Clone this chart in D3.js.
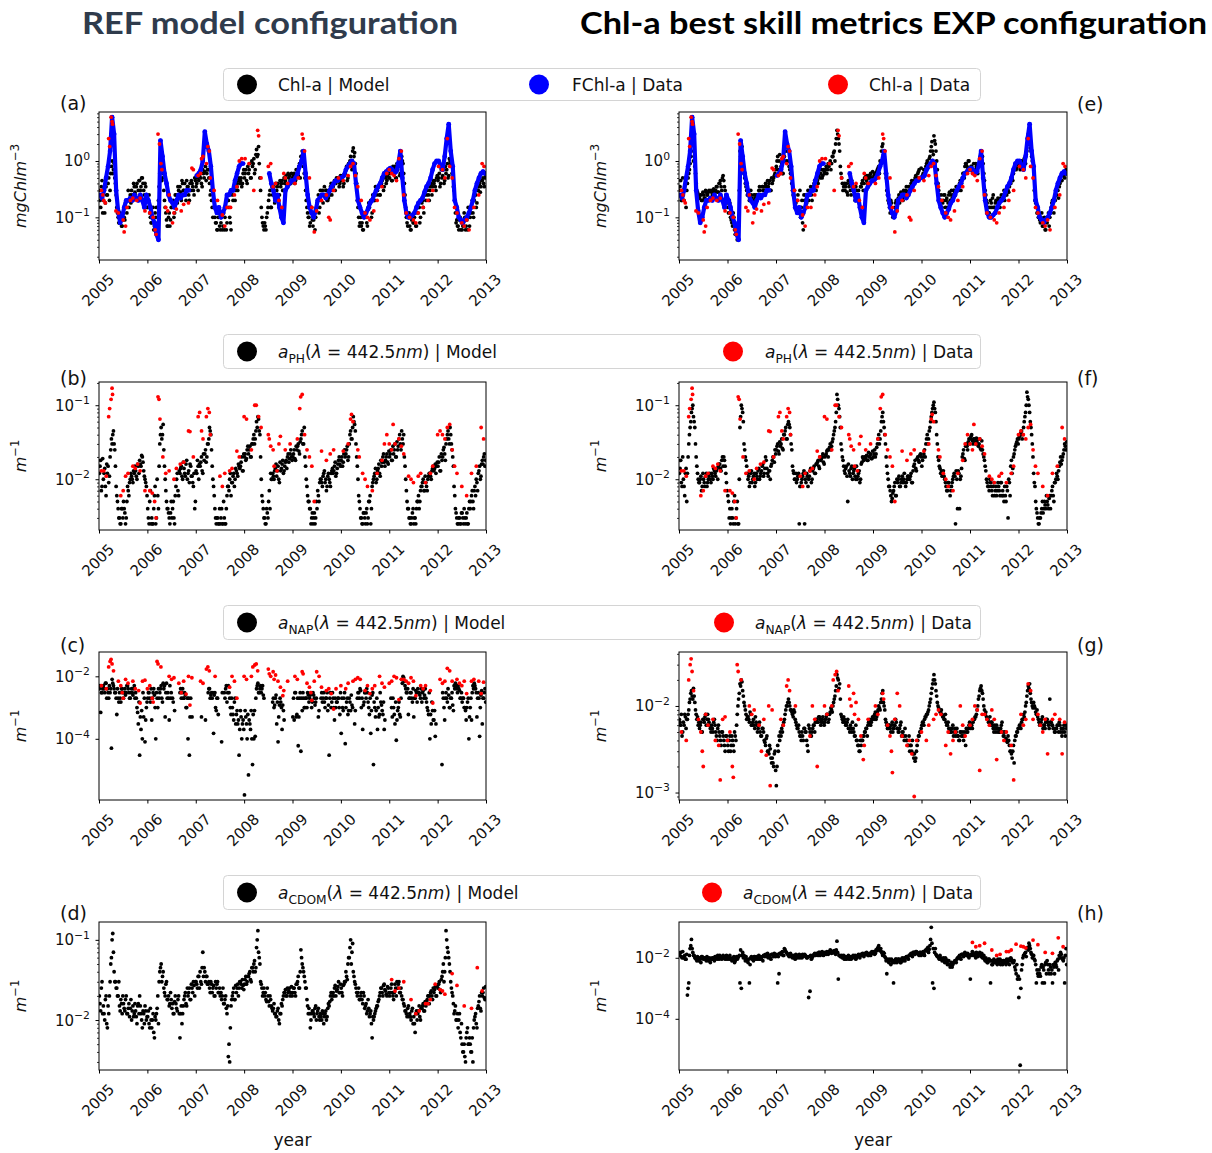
<!DOCTYPE html>
<html><head><meta charset="utf-8">
<script src="https://cdn.jsdelivr.net/npm/d3@7"></script>
<style>body{margin:0;background:#fff}</style>
</head><body>
<svg id="fig" width="1212" height="1153"></svg>
<script>
// ---------------- DATA ----------------
const YEARS = [2005, 2006, 2007, 2008, 2009, 2010, 2011, 2012, 2013];

// model series: 3 samples per month (36 per year), 2005-01 .. 2012-12; "B" arrays = the samples in between
const refChl = [
.3,.15,.45, .2,.12,.35, .25,.5,.3, .8,.6,.9, .4,.15,.1, .08,.1,.07, .12,.09,.15, .2,.15,.25, .3,.2,.35, .25,.4,.3, .45,.35,.5, .3,.4,.2,
.15,.25,.1, .08,.15,.07, .1,.06,.2, .6,.8,.5, .3,.15,.09, .07,.12,.09, .15,.2,.12, .25,.18,.3, .35,.2,.4, .3,.25,.45, .35,.2,.3, .4,.3,.5,
.35,.5,.45, .6,.4,.7, .5,.8,.6, .7,.4,.3, .15,.2,.1, .08,.06,.12, .06,.1,.07, .06,.15,.08, .2,.1,.06, .25,.3,.2, .4,.3,.5, .45,.35,.6,
.5,.7,.4, .6,.9,.5, .8,1.1,.7, 1.6,1.3,.9, .3,.1,.07, .08,.06,.12, .2,.3,.15, .25,.35,.2, .3,.4,.25, .35,.45,.3, .4,.55,.35, .5,.45,.6,
.5,.6,.45, .7,.55,.9, 1.2,1.5,.8, .5,.2,.12, .1,.08,.15, .07,.12,.1, .18,.25,.15, .2,.3,.25, .25,.3,.2, .3,.35,.25, .35,.45,.4, .45,.5,.4,
.45,.55,.4, .6,.8,.5, .9,1.2,.7, 1.7,1.4,.6, .2,.1,.08, .07,.06,.1, .12,.08,.15, .15,.2,.12, .25,.2,.3, .3,.35,.25, .4,.5,.35, .5,.45,.6,
.5,.7,.45, .6,.8,.5, .7,1.0,.6, 1.2,.9,.4, .15,.08,.1, .07,.06,.1, .08,.12,.07, .12,.15,.1, .18,.15,.25, .2,.3,.25, .3,.4,.35, .4,.35,.5,
.45,.6,.4, .5,.7,.45, .6,.9,.55, 1.0,.8,.5, .3,.12,.09, .07,.09,.06, .06,.08,.1, .07,.06,.12, .1,.15,.12, .2,.25,.18, .3,.4,.35, .45,.4,.5];
const refChlB = [
.2,.35,.12, .3,.18,.25, .4,.2,.6, 1.0,.7,.5, .25,.12,.08, .12,.07,.09, .1,.18,.12, .3,.2,.18, .25,.4,.28, .35,.22,.45, .3,.5,.4, .25,.35,.15,
.2,.12,.08, .1,.06,.12, .15,.08,.35, .7,.45,.6, .2,.12,.07, .1,.07,.15, .18,.1,.25, .2,.35,.22, .28,.45,.3, .4,.2,.35, .25,.4,.45, .35,.25,.45,
.4,.3,.55, .5,.35,.6, .65,.45,.7, .5,.25,.2, .1,.15,.08, .06,.1,.07, .08,.06,.12, .1,.06,.2, .15,.08,.3, .2,.35,.3, .35,.45,.4, .5,.4,.7,
.6,.45,.8, .7,.5,1.0, .9,.6,1.3, 1.2,1.8,.5, .15,.08,.06, .07,.1,.15, .25,.15,.35, .3,.18,.4, .35,.2,.45, .4,.3,.5, .45,.35,.6, .55,.4,.5,
.55,.4,.7, .6,.8,.5, 1.0,1.3,.6, .3,.15,.1, .07,.12,.09, .09,.06,.15, .2,.12,.3, .25,.18,.35, .3,.2,.22, .25,.4,.3, .4,.3,.5, .5,.35,.55,
.5,.35,.6, .7,.45,.9, 1.0,.8,1.5, 1.2,.9,.4, .15,.07,.1, .08,.06,.12, .1,.07,.18, .18,.1,.25, .2,.35,.25, .35,.25,.4, .45,.3,.55, .4,.55,.5,
.6,.45,.8, .7,.5,.9, .8,.55,1.1, 1.0,.6,.25, .1,.07,.12, .06,.09,.08, .1,.07,.15, .15,.08,.2, .2,.12,.3, .25,.35,.2, .35,.25,.45, .45,.3,.55,
.5,.35,.7, .55,.4,.8, .7,.5,1.1, .9,.6,.35, .2,.08,.07, .06,.1,.08, .07,.12,.06, .09,.15,.07, .12,.2,.1, .25,.15,.3, .35,.28,.45, .5,.35,.55];

const expChl = [
.3,.45,.2, .25,.35,.15, .4,.6,.9, 1.5,2.5,1.2, .6,.3,.25, .22,.25,.2, .25,.22,.28, .25,.3,.22, .28,.3,.25, .3,.35,.28, .4,.35,.5, .45,.3,.2,
.15,.2,.1, .08,.12,.06, .05,.04,.07, 1.5,2.0,1.0, .6,.4,.3, .25,.2,.3, .22,.18,.25, .2,.25,.3, .3,.25,.35, .3,.4,.35, .35,.45,.3, .4,.5,.6,
.8,1.2,1.0, .7,.9,.6, 1.2,2.0,1.5, 1.0,.7,.5, .3,.25,.2, .15,.25,.12, .1,.2,.06, .2,.15,.25, .2,.3,.25, .3,.4,.35, .5,.4,.6, .6,.5,.7,
.6,.8,.7, .8,1.0,.9, 1.2,1.5,2.0, 3.5,2.5,1.5, .6,.4,.35, .3,.4,.25, .35,.3,.45, .3,.25,.35, .2,.3,.15, .35,.45,.4, .5,.45,.55, .5,.6,.45,
.5,.6,.55, .7,.8,1.0, 1.5,2.0,1.2, .6,.3,.2, .15,.2,.12, .1,.15,.2, .2,.25,.22, .25,.2,.28, .3,.25,.35, .3,.4,.35, .4,.5,.45, .6,.7,.5,
.5,.6,.7, .8,1.0,.9, 1.2,1.8,1.5, 2.8,2.0,1.0, .4,.25,.2, .15,.2,.25, .2,.15,.25, .2,.3,.25, .3,.25,.35, .3,.4,.3, .5,.6,.8, .9,.7,1.0,
.7,.8,.6, .6,.9,.7, .8,1.0,1.4, 1.2,.6,.3, .2,.15,.12, .2,.15,.25, .15,.2,.18, .2,.15,.25, .2,.3,.25, .25,.3,.35, .4,.5,.6, .8,.7,1.0,
.9,.7,1.0, .8,1.1,.9, 1.5,3.0,2.0, 1.5,1.0,.5, .2,.15,.12, .1,.08,.12, .07,.1,.06, .08,.12,.1, .15,.2,.12, .2,.25,.3, .35,.5,.45, .6,.5,.7];
const expChlB = [
.35,.2,.5, .2,.4,.3, .5,.7,1.2, 2.0,1.0,.8, .4,.28,.22, .25,.2,.28, .22,.3,.25, .28,.2,.3, .25,.32,.28, .35,.28,.4, .45,.3,.55, .35,.25,.18,
.12,.18,.09, .07,.1,.05, .06,.05,.3, 1.2,1.8,.8, .5,.35,.25, .3,.22,.25, .2,.25,.22, .25,.22,.35, .25,.35,.3, .35,.3,.45, .4,.3,.5, .45,.55,.7,
1.0,.7,1.3, .8,.6,1.0, 1.5,1.0,1.8, .8,.6,.4, .25,.3,.18, .2,.12,.3, .15,.08,.25, .25,.18,.3, .25,.35,.2, .35,.45,.3, .45,.55,.5, .7,.55,.65,
.7,.6,.9, .9,.7,1.2, 1.4,1.0,2.5, 3.0,2.0,.8, .5,.3,.4, .35,.28,.45, .4,.25,.35, .35,.2,.3, .25,.18,.35, .4,.3,.5, .55,.4,.5, .55,.5,.65,
.55,.5,.65, .75,.6,.9, 1.8,1.3,1.0, .5,.25,.18, .12,.18,.1, .12,.18,.15, .22,.18,.28, .22,.3,.25, .35,.28,.3, .35,.45,.4, .45,.55,.5, .65,.5,.75,
.55,.7,.6, .9,.75,1.1, 1.5,2.2,1.3, 2.3,1.5,.7, .3,.2,.25, .18,.25,.15, .22,.18,.28, .25,.22,.3, .28,.35,.3, .35,.45,.4, .6,.5,.9, .8,1.0,.75,
.8,.65,.9, .7,.8,.6, .9,1.2,1.0, .9,.45,.25, .18,.12,.15, .18,.22,.15, .18,.15,.22, .18,.22,.2, .25,.2,.3, .3,.28,.4, .5,.45,.7, .9,.75,.85,
.8,1.0,.75, .9,1.0,1.3, 2.0,2.5,1.7, 1.2,.8,.3, .18,.12,.1, .09,.1,.07, .08,.06,.09, .1,.07,.12, .18,.15,.22, .25,.3,.22, .4,.45,.55, .55,.65,.6];

// FChl-a data: 2 samples per month (24 per year), null = no data
const fchlData = [
.25,.22,.3,.5,.8,1.5,6,3,.3,.13,.08,.1,.15,.2,.2,.22,.2,.25,.22,.2,.25,.2,.15,.25,
.2,.15,.1,.08,.05,.04,2.3,1.2,.6,.4,.25,.2,.18,.15,.2,.25,.22,.25,.25,.3,.3,null,null,null,
.55,.6,.7,1.0,3.3,2.0,1.5,.8,.3,.15,.12,.15,.1,.12,.15,.25,.25,.3,.3,.45,.6,.8,.9,.9,
null,null,null,null,null,null,null,null,null,null,null,null,.6,.4,.3,.2,.25,.15,.1,.08,.3,.35,.4,.45,
.45,.5,.6,.8,1.0,1.5,.6,.25,.15,.12,.1,.13,.2,.22,.25,.25,.22,.25,.3,.35,.4,.45,.45,.5,
.5,.55,.7,.8,.9,1.0,.9,.4,.2,.15,.12,.1,.12,.14,.18,.2,.25,.3,.35,.4,.5,.6,.65,.7,
.75,.7,.6,.65,.9,1.5,.5,.2,.12,.1,.1,.11,.12,.15,.18,.2,.22,.28,.35,.4,.5,.7,.9,1.0,
1.0,.8,.7,1.2,2.5,4.5,1.5,.8,.2,.15,.1,.09,.08,.09,.1,.12,.15,.2,.3,.4,.5,.6,.65,.6];

// in-situ Chl-a data [decimal year, mg Chl m^-3]
const chlObs = [
[2005.05,.3],[2005.08,.25],[2005.1,.2],[2005.13,.18],[2005.2,2.5],[2005.22,1.8],[2005.25,6],[2005.27,5],[2005.28,4.5],[2005.35,.13],[2005.4,.12],[2005.5,.09],[2005.52,.055],[2005.55,.07],[2005.58,.15],[2005.65,.2],[2005.7,.22],[2005.78,.2],[2005.85,.22],[2005.95,.13],
[2006.05,.12],[2006.12,.1],[2006.16,.06],[2006.18,.05],[2006.22,3],[2006.25,2],[2006.28,.9],[2006.3,.7],[2006.38,.15],[2006.42,.13],[2006.45,.25],[2006.52,.08],[2006.55,.12],[2006.6,.14],[2006.7,.13],[2006.75,.17],[2006.85,.18],[2006.92,.75],[2006.95,.7],
[2007.05,.55],[2007.1,.6],[2007.12,1.1],[2007.15,1.2],[2007.22,.9],[2007.25,1.8],[2007.28,1.5],[2007.3,.5],[2007.38,.3],[2007.45,.2],[2007.55,.11],[2007.6,.07],[2007.65,.15],[2007.72,.15],[2007.8,.25],[2007.85,.35],[2007.9,1.0],[2007.95,1.1],
[2008.02,1.1],[2008.1,.9],[2008.2,.3],[2008.28,3.5],[2008.3,2.8],[2008.35,.5],[2008.5,.8],[2008.55,.9],[2008.6,.35],[2008.65,.4],[2008.72,.2],[2008.78,.15],[2008.82,.6],[2008.85,.5],[2008.9,.4],
[2009.05,.4],[2009.12,.5],[2009.2,3],[2009.22,2.5],[2009.25,1.5],[2009.35,.5],[2009.4,.15],[2009.45,.055],[2009.5,.13],[2009.6,.2],[2009.7,.25],[2009.75,.1],[2009.78,.09],[2009.85,.3],[2009.95,.5],
[2010.05,.45],[2010.15,.55],[2010.2,.8],[2010.25,.9],[2010.3,.55],[2010.35,.35],[2010.42,.2],[2010.5,.12],[2010.55,.1],[2010.6,.09],[2010.68,.13],[2010.75,.2],[2010.85,.35],[2010.95,.6],
[2011.0,.7],[2011.05,.6],[2011.1,.55],[2011.15,.45],[2011.2,1.1],[2011.25,1.5],[2011.3,.25],[2011.35,.12],[2011.42,.1],[2011.5,.09],[2011.55,.08],[2011.6,.12],[2011.7,.15],[2011.8,.2],[2011.9,.3],
[2012.02,.8],[2012.1,.7],[2012.15,.5],[2012.2,2.5],[2012.25,.8],[2012.3,.5],[2012.35,.15],[2012.4,.12],[2012.5,.08],[2012.55,.07],[2012.6,.09],[2012.65,.06],[2012.75,.15],[2012.85,.25],[2012.92,.9],[2012.96,.8]];

const refAph = [
.012,.018,.008, .01,.014,.006, .012,.009,.02, .035,.04,.03, .015,.006,.004, .003,.0025,.004, .005,.0035,.003, .008,.006,.01, .011,.009,.012, .013,.01,.015, .018,.015,.02, .013,.01,.008,
.004,.0025,.007, .003,.0025,.006, .0025,.01,.004, .03,.05,.04, .025,.01,.005, .004,.003,.0035, .003,.005,.0025, .008,.012,.006, .012,.015,.01, .014,.011,.018, .012,.009,.015, .011,.008,.004,
.013,.018,.01, .015,.02,.012, .018,.025,.02, .03,.05,.04, .015,.008,.004, .0025,.003,.0025, .0025,.004,.0025, .003,.0025,.006, .008,.01,.006, .009,.012,.01, .013,.011,.015, .015,.02,.013,
.02,.018,.025, .022,.028,.02, .03,.04,.035, .06,.07,.045, .02,.006,.004, .003,.0025,.0035, .005,.004,.01, .012,.01,.014, .011,.015,.009, .013,.016,.012, .015,.018,.02, .017,.022,.02,
.02,.025,.018, .025,.03,.022, .035,.045,.03, .02,.01,.006, .005,.004,.003, .0025,.0035,.003, .004,.006,.009, .01,.008,.012, .009,.007,.011, .01,.008,.013, .012,.015,.011, .014,.018,.016,
.018,.015,.022, .02,.025,.018, .03,.045,.035, .07,.055,.03, .015,.006,.004, .003,.0025,.0035, .0025,.004,.003, .005,.0025,.008, .01,.012,.009, .013,.016,.011, .015,.02,.017, .018,.022,.016,
.02,.025,.018, .022,.03,.02, .025,.035,.03, .045,.03,.02, .01,.005,.004, .003,.0025,.0035, .0025,.003,.004, .005,.004,.007, .008,.01,.007, .009,.007,.011, .012,.01,.014, .013,.016,.015,
.015,.02,.013, .018,.025,.022, .03,.04,.035, .05,.03,.02, .008,.004,.003, .0025,.003,.0025, .0035,.0025,.003, .003,.0025,.004, .004,.006,.005, .007,.006,.009, .012,.015,.011, .018,.02,.015];
const refAphB = [
.015,.007,.019, .012,.008,.016, .015,.011,.025, .03,.045,.025, .008,.005,.003, .0025,.004,.003, .004,.0025,.005, .007,.009,.012, .01,.013,.015, .011,.016,.012, .016,.021,.017, .011,.009,.006,
.003,.005,.0025, .0025,.004,.008, .003,.006,.015, .04,.035,.055, .015,.007,.004, .0035,.0025,.005, .004,.003,.006, .01,.007,.013, .014,.011,.017, .012,.016,.01, .013,.016,.011, .009,.012,.005,
.012,.015,.016, .017,.013,.022, .022,.017,.03, .035,.045,.025, .01,.006,.003, .003,.0025,.004, .003,.0025,.005, .0025,.004,.008, .007,.012,.009, .011,.008,.014, .012,.016,.014, .017,.013,.022,
.022,.019,.028, .025,.02,.03, .035,.03,.045, .05,.065,.04, .01,.005,.003, .0025,.004,.003, .007,.012,.01, .011,.013,.016, .013,.01,.017, .014,.018,.013, .017,.014,.022, .019,.025,.018,
.022,.019,.028, .028,.024,.032, .04,.03,.05, .015,.008,.005, .004,.0025,.0035, .003,.0025,.005, .007,.005,.01, .009,.011,.013, .01,.008,.012, .009,.012,.014, .013,.017,.012, .016,.02,.015,
.02,.017,.025, .022,.028,.02, .04,.035,.05, .06,.045,.02, .01,.005,.003, .0025,.0035,.003, .0035,.0025,.005, .006,.004,.009, .011,.014,.01, .014,.012,.018, .017,.022,.015, .02,.017,.024,
.022,.018,.028, .025,.02,.032, .028,.04,.025, .035,.04,.015, .007,.004,.003, .0025,.003,.004, .003,.0025,.005, .006,.005,.008, .009,.007,.011, .008,.01,.012, .011,.013,.015, .014,.012,.017,
.017,.013,.022, .02,.027,.018, .035,.045,.03, .04,.025,.015, .006,.0035,.0025, .003,.0025,.0035, .003,.004,.0025, .0035,.0025,.005, .005,.007,.004, .008,.01,.007, .013,.01,.016, .016,.022,.018];

const expAph = [
.012,.018,.008, .01,.006,.014, .012,.03,.05, .08,.1,.06, .03,.015,.01, .009,.011,.008, .01,.008,.012, .009,.011,.01, .012,.01,.013, .011,.014,.015, .016,.013,.02, .02,.015,.009,
.006,.003,.0025, .004,.0025,.006, .003,.005,.0025, .05,.1,.08, .03,.02,.015, .01,.008,.012, .009,.011,.008, .012,.01,.014, .011,.013,.016, .012,.02,.014, .011,.013,.015, .018,.02,.025,
.025,.03,.022, .028,.035,.025, .04,.05,.035, .06,.05,.03, .015,.012,.01, .009,.011,.0025, .008,.01,.012, .0025,.009,.011, .01,.013,.009, .013,.015,.012, .016,.018,.014, .018,.02,.017,
.02,.022,.025, .025,.03,.028, .035,.045,.06, .14,.1,.07, .03,.02,.015, .012,.015,.005, .013,.011,.015, .012,.014,.01, .01,.012,.009, .016,.02,.018, .019,.021,.018, .02,.022,.019,
.02,.025,.022, .03,.04,.035, .06,.08,.05, .03,.015,.01, .008,.006,.0055, .007,.009,.006, .009,.011,.008, .01,.009,.012, .008,.01,.011, .01,.012,.009, .015,.018,.013, .02,.017,.022,
.015,.02,.025, .03,.04,.035, .05,.07,.09, .11,.08,.04, .02,.015,.012, .011,.013,.01, .008,.007,.009, .006,.008,.01, .012,.0025,.01, .013,.004,.011, .02,.025,.018, .03,.025,.035,
.035,.04,.03, .035,.03,.033, .028,.035,.025, .025,.02,.015, .01,.008,.007, .009,.007,.008, .006,.008,.007, .008,.006,.009, .007,.005,.006, .008,.003,.009, .015,.012,.02, .025,.03,.035,
.035,.04,.045, .04,.06,.08, .15,.12,.08, .05,.03,.012, .008,.004,.003, .0025,.003,.004, .0035,.005,.004, .005,.004,.006, .006,.008,.005, .009,.012,.01, .015,.02,.018, .022,.03,.025];
const expAphB = [
.014,.009,.02, .008,.012,.005, .02,.04,.06, .09,.07,.05, .02,.012,.009, .01,.007,.012, .009,.011,.008, .01,.012,.009, .011,.014,.012, .013,.01,.016, .014,.018,.015, .018,.012,.007,
.005,.004,.003, .003,.005,.0025, .004,.0025,.01, .07,.09,.06, .025,.018,.012, .011,.009,.013, .01,.012,.009, .011,.013,.01, .012,.015,.011, .014,.018,.012, .013,.01,.016, .02,.017,.022,
.028,.024,.032, .03,.026,.04, .045,.035,.055, .055,.04,.025, .013,.01,.012, .01,.012,.008, .009,.011,.013, .01,.012,.008, .011,.014,.01, .014,.012,.016, .017,.015,.02, .019,.022,.016,
.021,.024,.02, .027,.025,.032, .04,.05,.08, .12,.09,.05, .025,.018,.013, .014,.011,.016, .012,.014,.01, .013,.011,.015, .011,.013,.01, .017,.019,.02, .02,.018,.023, .021,.019,.024,
.022,.02,.027, .035,.03,.045, .07,.06,.04, .02,.012,.008, .007,.005,.0065, .008,.006,.01, .01,.008,.009, .011,.01,.009, .009,.011,.01, .011,.009,.013, .016,.014,.019, .018,.021,.02,
.018,.022,.02, .035,.03,.045, .06,.08,.1, .09,.06,.03, .018,.014,.013, .012,.011,.009, .007,.009,.008, .007,.009,.011, .011,.013,.004, .012,.01,.014, .022,.019,.028, .028,.032,.03,
.038,.033,.035, .032,.036,.03, .03,.026,.033, .022,.018,.013, .009,.008,.01, .008,.006,.009, .007,.006,.009, .007,.009,.006, .006,.008,.005, .007,.01,.006, .018,.014,.022, .028,.032,.03,
.038,.042,.035, .05,.07,.1, .13,.1,.06, .04,.02,.009, .005,.0035,.0025, .003,.0035,.005, .004,.0045,.006, .0045,.0055,.004, .007,.006,.009, .01,.011,.013, .017,.016,.02, .025,.028,.032];

const aphObs = [
[2005.05,.013],[2005.1,.013],[2005.15,.011],[2005.2,.07],[2005.22,.09],[2005.25,.12],[2005.27,.17],[2005.28,.14],[2005.45,.006],[2005.5,.007],[2005.55,.011],[2005.6,.012],[2005.7,.015],[2005.75,.014],[2005.8,.016],[2005.85,.013],[2005.95,.007],
[2006.05,.007],[2006.1,.0065],[2006.15,.005],[2006.18,.003],[2006.22,.13],[2006.24,.12],[2006.26,.065],[2006.32,.02],[2006.38,.012],[2006.45,.013],[2006.55,.01],[2006.6,.014],[2006.68,.016],[2006.75,.017],[2006.85,.045],[2006.88,.044],[2006.95,.02],
[2007.05,.07],[2007.08,.08],[2007.12,.045],[2007.15,.035],[2007.22,.07],[2007.25,.09],[2007.28,.08],[2007.3,.04],[2007.5,.011],[2007.55,.008],[2007.6,.012],[2007.7,.013],[2007.75,.014],[2007.85,.024],[2007.9,.02],
[2008.0,.07],[2008.05,.065],[2008.15,.025],[2008.22,.1],[2008.25,.1],[2008.3,.07],[2008.35,.05],[2008.5,.04],[2008.52,.035],[2008.55,.028],[2008.6,.025],[2008.62,.015],[2008.68,.013],[2008.72,.03],[2008.75,.038],[2008.85,.025],[2008.95,.03],
[2009.1,.035],[2009.15,.09],[2009.17,.13],[2009.2,.14],[2009.25,.04],[2009.3,.025],[2009.35,.02],[2009.4,.015],[2009.45,.005],[2009.6,.024],[2009.7,.018],[2009.78,.022],[2009.85,.025],
[2010.05,.024],[2010.15,.03],[2010.2,.065],[2010.22,.075],[2010.25,.06],[2010.35,.025],[2010.38,.02],[2010.45,.012],[2010.5,.01],[2010.55,.008],[2010.65,.007],[2010.75,.012],[2010.85,.018],[2010.9,.03],[2010.95,.04],
[2011.0,.03],[2011.05,.025],[2011.08,.055],[2011.12,.03],[2011.2,.035],[2011.25,.028],[2011.3,.022],[2011.4,.011],[2011.45,.01],[2011.5,.009],[2011.6,.011],[2011.65,.012],[2011.75,.009],[2011.85,.012],[2011.9,.015],
[2012.0,.04],[2012.05,.045],[2012.1,.04],[2012.15,.035],[2012.2,.05],[2012.25,.055],[2012.3,.025],[2012.35,.015],[2012.4,.012],[2012.5,.008],[2012.6,.006],[2012.7,.012],[2012.8,.015],[2012.9,.05],[2012.95,.035]];

const refAnap = [
.004,.0007,.003, .005,.003,.006, .004,.002,.003, .00005,.006,.004, .003,.0006,.002, .003,.0015,.004, .002,.004,.003, .005,.003,.002, .004,.0025,.005, .003,.001,.0003, .00003,.0002,.0001, .0005,.00008,.001,
.002,.003,.0015, .0004,.003,.0025, .0001,.002,.004, .003,.005,.0015, .004,.0005,.006, .003,.0004,.002, null,.0015,.0008, null,null,null, .003,.002,.004, .002,.0025,.001, .0001,.00003,.002, .0005,null,null,
null,null,null, null,.0005,null, null,.0004,null, .003,.004,.0025, .002,.00015,.003, .0008,.002,null, null,.00008,null, .003,.004,.0015, .005,.002,.0006, .001,.0004,.002, .0006,.0003,.00003, .0008,.0001,.0004,
.0000016,.0005,.0001, .000007,.0003,.0008, .000015,.0001,.00012, .004,.006,.003, .005,.004,.0025, null,null,null, null,null,null, .0015,.001,.002, .0003,.00008,.0012, .0015,.0002,.0008, null,null,null, null,null,null,
.0005,.0004,.003, .0006,.00006,.002, .00004,.0008,.002, .001,.002,.003, .0015,.0025,.001, .003,.002,.0015, null,.0005,null, .002,.0015,.003, .001,.002,.0008, .00003,.003,.0015, .002,.0004,.001, .0015,.002,.0006,
.00015,.001,.002, .00007,.0015,.0006, .002,.0008,.0012, null,.0003,null, .002,.003,.004, .001,.0002,.0015, .003,.004,.0015, .0006,.00015,.0025, .000015,.001,.0008, .0002,.0005,.003, .0012,.0006,.0002, null,null,null,
null,.002,.0005, .001,.0003,.00009, .0008,.0015,.0005, .008,.01,.007, .004,.003,.0006, .002,.003,.0015, .0005,.002,.003, .004,.003,.002, .0015,.0035,.0025, .002,.001,.0006, .0001,.0003,.0008, .0004,.00012,null,
null,null,null, .000015,.002,.0004, .003,.0015,.0025, .001,.002,.0012, .005,.006,.004, .005,.0035,.002, .0015,.002,.001, .0004,.0015,.0001, .001,.0004,.005, .006,.004,.0005, .003,.00012,.0025, .0003,.002,.004];
const refAnapB = [
.005,.003,.004, .004,.006,.002, .003,.005,.004, .008,.005,.003, .002,.004,.0015, .002,.004,.003, .003,.0025,.005, .004,.002,.003, .003,.004,.002, .002,.0007,.0015, .0005,.0008,.003, .002,.0004,.0015,
.003,.002,.004, .002,.004,.001, .003,.001,.002, .004,.002,.006, .005,.003,.002, .002,.005,.003, .002,null,null, null,null,null, .004,.003,.002, .003,.001,.002, .002,.0005,null, null,null,null,
null,null,null, null,null,null, null,null,null, .004,.002,.003, .003,.0025,.001, .002,.0006,null, null,.003,null, .002,.005,.003, .003,.001,.002, .0006,.0015,.0003, .0008,.0004,.0002, .0005,.0003,.0002,
.0008,.0003,.0006, .0004,.0002,.0001, .0006,.0008,.002, .005,.003,.004, .003,.005,.002, null,null,null, null,null,null, .002,.0012,.0025, .0015,.0005,.002, .001,.0012,.0004, null,null,null, null,null,null,
.002,.003,.0005, .002,.0005,.003, .002,.003,.001, .002,.001,.0025, .002,.003,.0015, .0025,.0012,.002, null,.0008,null, .003,.002,.0015, .002,.003,.0012, .002,.001,.003, .001,.002,.0015, .002,.001,.003,
.002,.0008,.003, .001,.002,.0008, .0015,.0025,.001, null,.0008,null, .003,.002,.0035, .002,.0012,.003, .002,.003,.001, .002,.0008,.003, .0015,.0005,.002, .001,.0006,.0015, .0008,.0015,.0004, null,null,null,
null,.001,.002, .0006,.0015,.0004, .001,.0006,.002, .006,.009,.005, .003,.004,.002, .003,.002,.004, .002,.0035,.0015, .003,.0025,.004, .003,.002,.004, .0015,.0008,.003, .0006,.0015,.0004, .0008,.0003,null,
null,null,null, .003,.001,.002, .002,.004,.001, .002,.003,.0008, .004,.005,.003, .004,.002,.003, .002,.001,.0008, .001,.002,.0005, .002,.003,.004, .005,.003,.002, .002,.001,.0035, .002,.003,.0015];

const expAnap = [
.007,.006,.0045, .0065,.008,.0055, .007,.009,.012, .015,.012,.013, .009,.007,.006, .0055,.0065,.005, .007,.0075,.006, .008,.0065,.0055, .006,.005,.007, .005,.004,.006, .0045,.0035,.005, .004,.003,.0045,
.0035,.004,.003, .0045,.0035,.005, .004,.008,.012, .018,.02,.015, .011,.009,.007, .0075,.0065,.008, .006,.007,.0055, .0065,.005,.006, .005,.0045,.0055, .004,.0035,.0045, .003,.0035,.0025, .0025,.002,.003,
.0012,.0035,.0045, .005,.0055,.006, .007,.009,.01, .012,.01,.009, .008,.009,.007, .006,.0055,.005, .0045,.005,.004, .0055,.005,.0035, .006,.005,.0045, .0055,.006,.0065, .007,.0065,.0075, .006,.007,.0065,
.0065,.0075,.008, .007,.0085,.009, .01,.012,.015, .023,.02,.018, .008,.007,.0075, .0065,.006,.007, .0055,.006,.005, .0055,.0045,.006, .004,.0035,.003, .0035,.004,.0045, .005,.0055,.006, .0065,.006,.007,
.0075,.008,.007, .0085,.01,.009, .012,.015,.01, .007,.006,.0055, .006,.005,.0065, .0055,.006,.0065, .0055,.005,.006, .0045,.005,.004, .0045,.004,.0035, .003,.0035,.004, .0025,.0023,.003, .004,.0045,.005,
.006,.0065,.007, .0075,.008,.009, .011,.014,.018, .023,.018,.013, .01,.009,.0085, .008,.0075,.007, .0065,.006,.0055, .0055,.005,.006, .005,.0045,.0055, .0045,.004,.005, .0045,.004,.005, .0055,.005,.006,
.0055,.006,.0065, .007,.0075,.009, .012,.015,.017, .014,.01,.008, .0075,.007,.0065, .006,.0065,.0055, .006,.005,.0055, .0055,.005,.006, .005,.0045,.004, .004,.0045,.0035, .003,.0025,.0035, .004,.0045,.005,
.0055,.006,.0065, .007,.0075,.01, .013,.017,.018, .012,.01,.011, .0095,.008,.0075, .0065,.006,.007, .0055,.006,.0065, .007,.006,.012, .0065,.006,.0055, .005,.0055,.006, .0065,.005,.0045, .0055,.005,.006];
const expAnapB = [
.0065,.008,.005, .006,.0075,.007, .008,.011,.014, .013,.016,.011, .008,.0075,.0065, .006,.005,.007, .0065,.008,.007, .007,.006,.005, .0055,.0065,.006, .0045,.0055,.005, .004,.005,.0045, .0035,.0045,.004,
.003,.0045,.0035, .004,.003,.0045, .006,.01,.014, .017,.019,.013, .01,.008,.0075, .007,.0085,.006, .0065,.006,.0075, .006,.0055,.0065, .0045,.0055,.005, .0038,.0042,.003, .0028,.0032,.0022, .0022,.0028,.0018,
.002,.003,.004, .0045,.005,.0065, .008,.01,.011, .011,.009,.0085, .0075,.0085,.0065, .0055,.006,.0045, .004,.0045,.0055, .005,.004,.003, .0055,.0045,.005, .006,.005,.007, .0065,.0075,.007, .0065,.0075,.006,
.007,.008,.0065, .008,.0095,.0085, .011,.013,.017, .021,.016,.012, .0075,.0065,.007, .006,.0065,.0055, .005,.0055,.0065, .005,.0045,.004, .0035,.003,.004, .004,.0045,.005, .0055,.0045,.0065, .007,.0065,.0075,
.007,.0085,.0075, .009,.0095,.011, .014,.011,.009, .0065,.0055,.006, .0055,.006,.005, .006,.007,.0055, .005,.0055,.0065, .005,.0045,.0055, .004,.0035,.0045, .0035,.003,.0028, .0028,.0025,.0035, .0045,.005,.0055,
.0065,.006,.0075, .008,.0085,.01, .012,.016,.02, .02,.015,.011, .0095,.0085,.009, .0075,.007,.008, .006,.0065,.005, .005,.0055,.0045, .0055,.005,.0045, .004,.005,.0045, .005,.0045,.0035, .005,.0055,.0065,
.006,.0055,.007, .0075,.008,.01, .013,.016,.015, .012,.009,.0085, .007,.0065,.0075, .0065,.006,.005, .0055,.006,.005, .005,.0055,.0065, .0045,.005,.0042, .0038,.004,.003, .0028,.003,.0022, .0045,.005,.0055,
.006,.0055,.007, .008,.0085,.011, .015,.016,.014, .011,.0095,.01, .0085,.009,.007, .006,.0065,.0075, .006,.0055,.007, .0065,.0055,.0065, .006,.0055,.005, .0055,.006,.005, .006,.0055,.005, .006,.0045,.0055];

const anapObs = [
[2005.05,.005],[2005.15,.004],[2005.2,.02],[2005.23,.03],[2005.25,.035],[2005.27,.025],[2005.3,.015],[2005.4,.007],[2005.45,.005],[2005.48,.003],[2005.5,.002],[2005.55,.008],[2005.6,.006],[2005.7,.007],[2005.75,.004],[2005.82,.0035],[2005.85,.0014],[2005.9,.007],[2005.95,.0075],
[2006.0,.004],[2006.05,.005],[2006.1,.002],[2006.12,.0015],[2006.2,.03],[2006.22,.025],[2006.28,.02],[2006.45,.01],[2006.5,.008],[2006.55,.009],[2006.65,.006],[2006.7,.003],[2006.75,.007],[2006.8,.0027],[2006.85,.01],[2006.88,.0012],[2006.92,.009],
[2007.1,.007],[2007.15,.006],[2007.22,.017],[2007.25,.02],[2007.28,.015],[2007.4,.01],[2007.7,.0045],[2007.75,.01],[2007.8,.007],[2007.85,.002],
[2008.0,.01],[2008.05,.008],[2008.15,.01],[2008.18,.02],[2008.22,.023],[2008.25,.025],[2008.28,.015],[2008.5,.017],[2008.52,.012],[2008.55,.01],[2008.6,.014],[2008.62,.008],[2008.65,.011],[2008.7,.007],[2008.75,.0045],[2008.8,.0024],[2008.82,.0035],[2008.9,.007],
[2009.05,.01],[2009.1,.008],[2009.2,.014],[2009.22,.012],[2009.3,.006],[2009.35,.0045],[2009.38,.003],[2009.4,.0017],[2009.45,.007],[2009.5,.014],[2009.55,.01],[2009.6,.0045],[2009.7,.0035],[2009.75,.004],[2009.8,.0028],[2009.85,.0009],[2009.9,.004],
[2010.0,.005],[2010.1,.004],[2010.15,.006],[2010.25,.007],[2010.3,.008],[2010.35,.009],[2010.4,.008],[2010.5,.0035],[2010.55,.005],[2010.6,.0028],[2010.65,.004],[2010.7,.005],[2010.8,.01],[2010.85,.006],[2010.9,.0045],
[2011.0,.006],[2011.05,.007],[2011.1,.01],[2011.15,.009],[2011.2,.0018],[2011.25,.008],[2011.3,.008],[2011.35,.007],[2011.4,.006],[2011.45,.009],[2011.5,.007],[2011.55,.0024],[2011.65,.005],[2011.7,.004],[2011.75,.005],[2011.85,.0035],[2011.9,.0014],
[2012.05,.008],[2012.1,.006],[2012.15,.007],[2012.2,.018],[2012.25,.015],[2012.3,.007],[2012.4,.008],[2012.45,.006],[2012.5,.005],[2012.55,.007],[2012.6,.0028],[2012.7,.007],[2012.75,.008],[2012.85,.007],[2012.9,.0028],[2012.95,.0065]];

const refAcdom = [
.02,.013,.03, .015,.01,.02, .008,.012,.03, .06,.12,.04, .03,.025,.02, .015,.018,.012, .016,.013,.02, .012,.016,.014, .01,.015,.012, .013,.009,.016, .02,.012,.008, .012,.015,.01,
.011,.009,.014, .008,.012,.006, .01,.014,.009, .04,.05,.035, .025,.02,.03, .018,.015,.022, .014,.012,.017, .016,.013,.02, .006,.015,.012, .018,.022,.015, .02,.025,.018, .025,.03,.02,
.03,.025,.035, .04,.028,.07, .045,.03,.035, .028,.025,.03, .022,.027,.02, .025,.03,.022, .02,.018,.025, .016,.02,.012, .0035,.003,.015, .02,.025,.018, .022,.028,.025, .03,.025,.027,
.028,.035,.03, .035,.04,.03, .045,.05,.04, .08,.13,.06, .03,.025,.022, .02,.018,.025, .017,.02,.015, .013,.016,.012, .011,.014,.009, .012,.015,.02, .022,.02,.025, .023,.02,.026,
.022,.025,.02, .028,.035,.025, .075,.05,.04, .03,.025,.015, .014,.008,.012, .013,.011,.015, .012,.014,.01, .011,.013,.009, .012,.01,.014, .015,.02,.018, .022,.025,.02, .024,.03,.022,
.025,.02,.028, .03,.035,.05, .06,.1,.07, .04,.03,.025, .02,.025,.018, .022,.016,.02, .015,.012,.018, .011,.013,.006, .01,.012,.014, .015,.018,.022, .025,.02,.028, .023,.02,.025,
.02,.025,.022, .018,.028,.02, .025,.03,.022, .02,.018,.015, .013,.011,.015, .012,.01,.014, .011,.007,.013, .012,.015,.01, .014,.016,.013, .015,.018,.02, .02,.023,.018, .022,.026,.02,
.025,.03,.022, .035,.05,.04, .13,.08,.06, .04,.025,.02, .012,.015,.01, .008,.012,.006, .005,.004,.0035, .006,.008,.005, .005,.004,.003, .01,.012,.008, .015,.02,.013, .02,.025,.018];
const refAcdomB = [
.016,.025,.012, .012,.018,.009, .015,.02,.05, .1,.07,.03, .025,.02,.03, .013,.016,.02, .014,.018,.012, .014,.011,.018, .013,.011,.016, .011,.015,.012, .015,.01,.013, .009,.013,.011,
.013,.008,.01, .01,.007,.011, .012,.02,.03, .045,.03,.04, .022,.028,.018, .02,.016,.018, .016,.012,.02, .014,.018,.012, .012,.009,.015, .02,.016,.025, .022,.018,.028, .022,.027,.03,
.028,.035,.025, .03,.045,.035, .04,.035,.028, .03,.022,.028, .025,.02,.03, .028,.022,.025, .022,.02,.016, .018,.014,.015, .005,.008,.018, .022,.018,.027, .025,.02,.03, .028,.032,.024,
.032,.028,.035, .038,.032,.045, .04,.055,.045, .1,.07,.05, .028,.02,.025, .022,.017,.02, .015,.018,.014, .014,.012,.011, .013,.01,.012, .016,.018,.022, .024,.02,.022, .025,.022,.02,
.025,.022,.028, .03,.025,.04, .06,.045,.035, .025,.018,.012, .012,.01,.013, .012,.014,.01, .013,.011,.012, .01,.012,.011, .013,.011,.016, .017,.022,.02, .02,.027,.023, .026,.022,.028,
.022,.027,.03, .04,.032,.06, .08,.05,.09, .035,.028,.022, .022,.018,.02, .018,.022,.014, .016,.013,.014, .012,.009,.011, .011,.013,.015, .017,.02,.025, .022,.027,.024, .021,.026,.022,
.022,.028,.02, .022,.025,.03, .028,.022,.025, .018,.016,.013, .012,.014,.011, .011,.013,.009, .009,.012,.01, .013,.011,.014, .015,.013,.017, .017,.02,.016, .022,.02,.025, .024,.02,.027,
.028,.024,.032, .04,.03,.06, .1,.07,.05, .03,.022,.016, .013,.01,.012, .01,.007,.009, .004,.005,.003, .007,.005,.006, .004,.006,.008, .011,.009,.014, .017,.014,.022, .022,.019,.026];

const expAcdom = [
.012,.015,.01, .01,.012,.009, .0006,.0015,.02, .04,.015,.012, .01,.008,.009, .01,.007,.011, .009,.01,.008, .01,.009,.007, .009,.01,.008, .011,.009,.01, .012,.01,.011, .01,.009,.012,
.011,.009,.01, .008,.01,.007, .01,.009,.011, .0015,.001,.015, .012,.008,.009, .007,.0015,.01, .009,.008,.011, .01,.009,.012, .011,.01,.008, .012,.013,.011, .01,.012,.009, .013,.011,.012,
.012,.0015,.003, .014,.015,.012, .02,.016,.014, .012,.013,.011, .01,.012,.009, .011,.01,.013, .012,.01,.011, .013,.011,.01, .0005,.0008,.009, .011,.013,.012, .014,.012,.015, .013,.016,.012,
.015,.013,.014, .016,.018,.014, .015,.017,.013, .035,.002,.012, .011,.01,.012, .01,.009,.011, .009,.011,.01, .012,.01,.009, .011,.013,.01, .012,.014,.011, .013,.015,.012, .014,.012,.016,
.015,.013,.018, .02,.025,.017, .016,.012,.014, .01,.003,.008, .009,.006,.008, .0015,.007,.009, .008,.009,.007, .009,.008,.01, .01,.011,.009, .012,.014,.011, .015,.013,.016, .014,.012,.015,
.013,.016,.012, .018,.02,.015, .025,.1,.0015, .001,.02,.012, .011,.009,.01, .008,.01,.007, .009,.006,.008, .005,.007,.006, .007,.008,.009, .01,.012,.009, .013,.011,.015, .012,.014,.01,
.002,.012,.015, .013,.01,.014, .012,.015,.011, .01,.012,.008, .008,.007,.009, .0015,.006,.007, .008,.007,.006, .007,.009,.008, .006,.008,.007, .009,.008,.006, .01,.008,.007, .005,.003,.002,
.0005,.000003,.004, .01,.012,.015, .02,.018,.025, .015,.01,.012, .008,.0015,.003, .004,.0025,.006, .005,.0015,.007, .008,.004,.006, .003,.0015,.005, .007,.005,.009, .012,.015,.01, .008,.0015,.02];
const expAcdomB = [
.014,.011,.016, .011,.009,.013, .001,.012,.025, .02,.012,.01, .009,.011,.008, .009,.011,.01, .01,.009,.011, .008,.01,.009, .01,.009,.011, .01,.012,.009, .011,.009,.012, .011,.01,.009,
.01,.012,.009, .009,.011,.008, .011,.01,.012, .018,.012,.01, .01,.011,.008, .009,.006,.011, .01,.011,.009, .011,.01,.009, .009,.011,.012, .011,.012,.014, .011,.01,.013, .012,.014,.011,
.013,.011,.014, .013,.016,.012, .018,.015,.013, .011,.014,.012, .011,.01,.013, .012,.011,.01, .011,.013,.012, .012,.01,.011, .011,.012,.01, .012,.014,.013, .013,.015,.012, .015,.013,.014,
.014,.016,.013, .015,.017,.016, .016,.014,.018, .015,.012,.011, .012,.011,.009, .011,.01,.012, .01,.009,.011, .011,.012,.01, .012,.011,.013, .013,.012,.014, .014,.013,.012, .013,.015,.014,
.016,.014,.017, .022,.018,.02, .014,.015,.011, .008,.009,.007, .008,.009,.007, .008,.009,.007, .009,.008,.007, .01,.009,.008, .011,.01,.012, .013,.012,.015, .014,.016,.015, .013,.015,.012,
.015,.014,.017, .017,.022,.019, .04,.03,.02, .015,.013,.011, .01,.012,.009, .009,.008,.01, .007,.008,.006, .006,.005,.007, .008,.007,.01, .011,.01,.013, .012,.014,.013, .013,.011,.012,
.013,.016,.012, .012,.015,.011, .013,.012,.014, .011,.009,.01, .007,.009,.008, .008,.006,.009, .007,.008,.009, .008,.006,.007, .008,.007,.006, .007,.009,.008, .009,.007,.008, .004,.006,.0025,
.002,.001,.006, .012,.014,.011, .022,.03,.02, .013,.012,.009, .006,.004,.0025, .003,.005,.0015, .004,.006,.003, .006,.003,.005, .004,.006,.003, .006,.008,.004, .01,.013,.009, .01,.012,.006];

const acdomObs = [
[2011.05,.032],[2011.12,.023],[2011.2,.025],[2011.3,.03],[2011.45,.018],[2011.55,.012],[2011.62,.013],[2011.75,.016],[2011.8,.016],[2011.85,.018],[2011.95,.028],
[2012.05,.024],[2012.1,.023],[2012.15,.021],[2012.3,.038],[2012.4,.027],[2012.55,.015],[2012.7,.014],[2012.82,.045],[2012.92,.023]];

// ---------------- DRAWING ----------------
const svg = d3.select('#fig');
const FONT = '"DejaVu Sans", sans-serif';
const H = 148;
const ROWS = [112, 382, 652, 922];
const COLS = [{x0: 99, w: 387, ylabX: 26, letterX: 60}, {x0: 679, w: 388, ylabX: 606, letterX: 1077}];

const model = (a, b) => a.map((v, i) => ({t: 2005 + (i + 0.25) / 36, v}))
  .concat(b.map((v, i) => ({t: 2005 + (i + 0.75) / 36, v})))
  .filter(d => d.v != null);
const semi24 = arr => arr.map((v, i) => ({t: 2005 + (i + 0.5) / 24, v}));
const obs = arr => arr.map(d => ({t: d[0], v: d[1]}));

function rich(sel, segs, base) {
  let shift = 0;
  segs.forEach(s => {
    const target = s.sub ? 0.3 * base : s.sup ? -0.45 * base : 0;
    const ts = sel.append('tspan').text(s.t).attr('dy', target - shift);
    if (s.sub || s.sup) ts.attr('font-size', base * 0.72);
    if (s.it) ts.attr('font-style', 'italic');
    shift = target;
  });
}

const expLabel = v => {
  const e = Math.round(Math.log10(v));
  return [{t: '10'}, {t: e === 0 ? '0' : '\u2212' + Math.abs(e), sup: true}];
};

let clipN = 0;
function panel(o) {
  const c = COLS[o.col], y0 = ROWS[o.row];
  const x = d3.scaleLinear().domain([2005, 2013]).range([c.x0, c.x0 + c.w]);
  const y = d3.scaleLog().domain(o.domain).range([y0 + H, y0]);
  const g = svg.append('g');
  const cid = 'clip' + (clipN++);
  svg.append('clipPath').attr('id', cid).append('rect')
    .attr('x', c.x0).attr('y', y0).attr('width', c.w).attr('height', H);
  const plot = g.append('g').attr('clip-path', `url(#${cid})`);

  o.series.forEach(s => {
    if (s.line) {
      plot.append('path').datum(s.data)
        .attr('fill', 'none').attr('stroke', s.color).attr('stroke-width', 4.2)
        .attr('stroke-linejoin', 'round')
        .attr('d', d3.line().defined(d => d.v != null).x(d => x(d.t)).y(d => y(d.v)));
    }
    plot.append('g').selectAll('circle').data(s.data.filter(d => d.v != null)).join('circle')
      .attr('cx', d => x(d.t)).attr('cy', d => y(d.v)).attr('r', s.r).attr('fill', s.color);
  });

  // frame
  g.append('rect').attr('x', c.x0).attr('y', y0).attr('width', c.w).attr('height', H)
    .attr('fill', 'none').attr('stroke', '#000').attr('stroke-width', 1);

  // x axis
  const xa = g.append('g').attr('transform', `translate(0,${y0 + H})`)
    .call(d3.axisBottom(x).tickValues(YEARS).tickSize(3.5).tickSizeOuter(0).tickFormat(''));
  xa.select('.domain').remove();
  xa.selectAll('line').attr('stroke', '#000');
  g.append('g').selectAll('text').data(YEARS).join('text')
    .attr('transform', d => `translate(${x(d) - 1},${y0 + H + 30}) rotate(-45)`)
    .attr('text-anchor', 'middle').attr('dy', '0.35em')
    .attr('font-family', FONT).attr('font-size', 15).attr('fill', '#111')
    .text(d => d);

  // y axis major
  const ya = g.append('g').attr('transform', `translate(${c.x0},0)`)
    .call(d3.axisLeft(y).tickValues(o.majors).tickSize(3.5).tickSizeOuter(0).tickFormat(''));
  ya.select('.domain').remove();
  ya.selectAll('line').attr('stroke', '#000');
  if (o.minors) {
    const mins = [];
    const lo = Math.floor(Math.log10(o.domain[0])), hi = Math.ceil(Math.log10(o.domain[1]));
    for (let k = lo; k <= hi; k++) for (let m = 2; m <= 9; m++) {
      const v = m * Math.pow(10, k);
      if (v >= o.domain[0] && v <= o.domain[1]) mins.push(v);
    }
    const ym = g.append('g').attr('transform', `translate(${c.x0},0)`)
      .call(d3.axisLeft(y).tickValues(mins).tickSize(2).tickSizeOuter(0).tickFormat(''));
    ym.select('.domain').remove();
    ym.selectAll('line').attr('stroke', '#000').attr('stroke-width', 0.8);
  }
  o.majors.forEach(v => {
    const t = g.append('text').attr('x', c.x0 - 9).attr('y', y(v) + 5.5)
      .attr('text-anchor', 'end').attr('font-family', FONT).attr('font-size', 15).attr('fill', '#111');
    rich(t, expLabel(v), 15);
  });

  const yl = g.append('text')
    .attr('transform', `translate(${c.ylabX},${y0 + H / 2}) rotate(-90)`)
    .attr('text-anchor', 'middle').attr('dy', '0.35em')
    .attr('font-family', FONT).attr('font-size', 16).attr('fill', '#111');
  rich(yl, o.ylab, 16);

  g.append('text').attr('x', c.letterX).attr('y', o.letterY)
    .attr('font-family', FONT).attr('font-size', 19).attr('fill', '#111').text(o.letter);

  if (o.xlabel) {
    g.append('text').attr('x', c.x0 + c.w / 2).attr('y', 1146).attr('text-anchor', 'middle')
      .attr('font-family', FONT).attr('font-size', 17).attr('fill', '#111').text('year');
  }
}

const YL_CHL = [{t: 'mgChlm', it: true}, {t: '\u22123', sup: true}];
const YL_M = [{t: 'm', it: true}, {t: '\u22121', sup: true}];
const BLACK = '#000', BLUE = '#0000ff', RED = '#ff0000';
const RB = 1.9, RR = 1.9;

const fchlSeries = {data: semi24(fchlData), color: BLUE, r: 2.4, line: true};
const P = [
  {col: 0, row: 0, domain: [0.0175, 7.4], majors: [0.1, 1], minors: true, ylab: YL_CHL, letter: '(a)', letterY: 110,
   series: [{data: model(refChl, refChlB), color: BLACK, r: RB}, fchlSeries, {data: obs(chlObs), color: RED, r: RR}]},
  {col: 1, row: 0, domain: [0.0175, 7.4], majors: [0.1, 1], minors: true, ylab: YL_CHL, letter: '(e)', letterY: 111,
   series: [{data: model(expChl, expChlB), color: BLACK, r: RB}, fchlSeries, {data: obs(chlObs), color: RED, r: RR}]},
  {col: 0, row: 1, domain: [0.00206, 0.206], majors: [0.01, 0.1], minors: true, ylab: YL_M, letter: '(b)', letterY: 385,
   series: [{data: model(refAph, refAphB), color: BLACK, r: RB}, {data: obs(aphObs), color: RED, r: RR}]},
  {col: 1, row: 1, domain: [0.00206, 0.206], majors: [0.01, 0.1], minors: true, ylab: YL_M, letter: '(f)', letterY: 385,
   series: [{data: model(expAph, expAphB), color: BLACK, r: RB}, {data: obs(aphObs), color: RED, r: RR}]},
  {col: 0, row: 2, domain: [1.1e-6, 0.06], majors: [1e-4, 1e-2], minors: false, ylab: YL_M, letter: '(c)', letterY: 652,
   series: [{data: model(refAnap, refAnapB), color: BLACK, r: RB}, {data: obs(anapObs), color: RED, r: RR}]},
  {col: 1, row: 2, domain: [8.2e-4, 0.042], majors: [1e-3, 1e-2], minors: true, ylab: YL_M, letter: '(g)', letterY: 652,
   series: [{data: model(expAnap, expAnapB), color: BLACK, r: RB}, {data: obs(anapObs), color: RED, r: RR}]},
  {col: 0, row: 3, domain: [0.00238, 0.167], majors: [0.01, 0.1], minors: true, ylab: YL_M, letter: '(d)', letterY: 920, xlabel: true,
   series: [{data: model(refAcdom, refAcdomB), color: BLACK, r: RB}, {data: obs(acdomObs), color: RED, r: RR}]},
  {col: 1, row: 3, domain: [2.1e-6, 0.149], majors: [1e-4, 1e-2], minors: false, ylab: YL_M, letter: '(h)', letterY: 920, xlabel: true,
   series: [{data: model(expAcdom, expAcdomB), color: BLACK, r: RB}, {data: obs(acdomObs), color: RED, r: RR}]}
];
P.forEach(panel);

// legends
const absLabel = (sub, who) => [{t: 'a', it: true}, {t: sub, sub: true}, {t: '('}, {t: '\u03bb', it: true},
  {t: ' = 442.5'}, {t: 'nm', it: true}, {t: ') | ' + who}];
const LEGENDS = [
  {y: 68, h: 32, items: [
    {cx: 247, tx: 278, color: BLACK, label: [{t: 'Chl-a | Model'}]},
    {cx: 539, tx: 572, color: BLUE, label: [{t: 'FChl-a | Data'}]},
    {cx: 838, tx: 869, color: RED, label: [{t: 'Chl-a | Data'}]}]},
  {y: 334, h: 34, items: [
    {cx: 247, tx: 278, color: BLACK, label: absLabel('PH', 'Model')},
    {cx: 733, tx: 765, color: RED, label: absLabel('PH', 'Data')}]},
  {y: 605, h: 34, items: [
    {cx: 247, tx: 278, color: BLACK, label: absLabel('NAP', 'Model')},
    {cx: 724, tx: 755, color: RED, label: absLabel('NAP', 'Data')}]},
  {y: 875, h: 34, items: [
    {cx: 247, tx: 278, color: BLACK, label: absLabel('CDOM', 'Model')},
    {cx: 712, tx: 743, color: RED, label: absLabel('CDOM', 'Data')}]}
];
LEGENDS.forEach(L => {
  const g = svg.append('g');
  g.append('rect').attr('x', 223.5).attr('y', L.y + 0.5).attr('width', 757).attr('height', L.h)
    .attr('rx', 4).attr('fill', '#fff').attr('stroke', '#d4d4d4').attr('stroke-width', 1);
  const cy = L.y + L.h / 2 + 0.5;
  L.items.forEach(it => {
    g.append('circle').attr('cx', it.cx).attr('cy', cy).attr('r', 10).attr('fill', it.color);
    const t = g.append('text').attr('x', it.tx).attr('y', cy + 6)
      .attr('font-family', FONT).attr('font-size', 17).attr('fill', '#111');
    rich(t, it.label, 17);
  });
});

// titles
svg.append('text').attr('x', 82).attr('y', 34).attr('font-family', 'Lato, "Open Sans", sans-serif')
  .attr('font-weight', 700).attr('font-size', 31).attr('fill', '#2f3b4c')
  .attr('textLength', 376).attr('lengthAdjust', 'spacingAndGlyphs').text('REF model configuration');
svg.append('text').attr('x', 580).attr('y', 34).attr('font-family', 'Lato, "Open Sans", sans-serif')
  .attr('font-weight', 700).attr('font-size', 31).attr('fill', '#000')
  .attr('textLength', 627).attr('lengthAdjust', 'spacingAndGlyphs').text('Chl-a best skill metrics EXP configuration');
</script>
</body></html>
